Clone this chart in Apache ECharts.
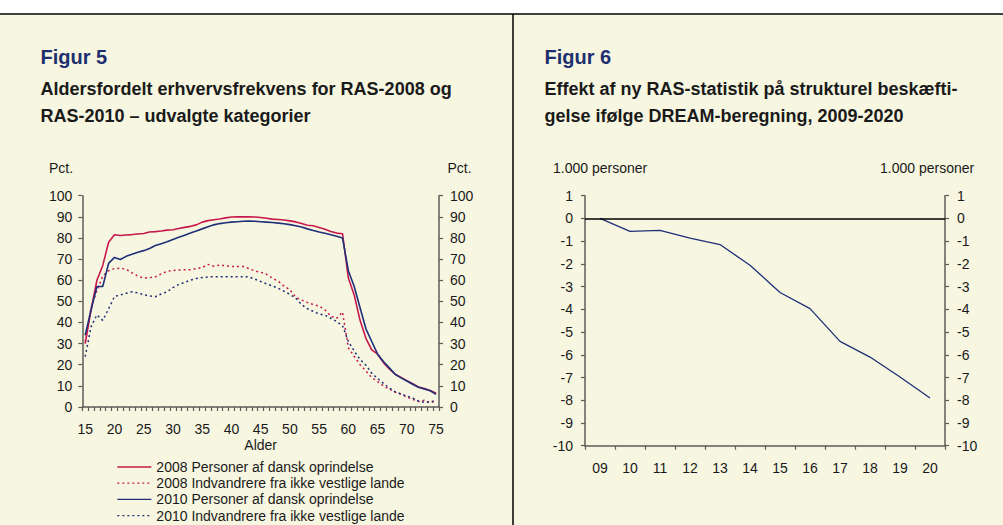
<!DOCTYPE html>
<html><head><meta charset="utf-8">
<script src="https://cdn.jsdelivr.net/npm/echarts@6/dist/echarts.min.js"></script>
<style>html,body{margin:0;padding:0;background:#ffffff}#c{width:1003px;height:525px}</style>
</head><body><div id="c"></div>
<script>
// ---- Figur 5 data ----
const ages = ['15','16','17','18','19','20','21','22','23','24','25','26','27','28','29','30','31','32','33','34','35','36','37','38','39','40','41','42','43','44','45','46','47','48','49','50','51','52','53','54','55','56','57','58','59','60','61','62','63','64','65','66','67','68','69','70','71','72','73','74','75'];
const dansk2008 = [30,46,60,67,78,81.5,81.2,81.4,81.6,81.9,82.1,82.8,83.0,83.3,83.7,83.9,84.5,85.0,85.5,86.2,87.5,88.2,88.6,89.0,89.5,89.9,90.0,90.0,90.0,89.9,89.7,89.3,88.9,88.7,88.5,88.1,87.6,86.8,86.0,85.8,85.0,84.1,83.1,82.3,82.0,61.0,53.0,41.0,32.5,27.0,25.0,21.0,18.0,15.5,14.0,12.5,11.0,9.5,8.7,7.8,6.5];
const indv2008 = [31,47,55,62,64.5,65.5,65.7,65.2,63.5,62,61,61.2,61.6,63,64.2,64.6,64.8,64.9,65,65.5,66,67.5,66.6,67.2,66.8,66.5,66.5,66.5,65.5,64.4,63.8,62.8,61,59.5,57.2,55.5,52,50.6,49.5,48.5,47.8,46,43,42,45,28,24,20,17,14,12,10,8.5,7,6,4.7,3.6,2.6,3.2,2.0,3.0];
const dansk2010 = [34,46,57,57,68,70.8,69.8,71.3,72.3,73.2,74.0,75.0,76.4,77.3,78.2,79.3,80.3,81.3,82.3,83.3,84.3,85.3,86.2,86.8,87.2,87.5,87.7,87.9,88.0,87.9,87.7,87.5,87.3,87.0,86.7,86.3,85.8,85.2,84.3,83.5,82.8,82.2,81.5,80.8,80.0,64.5,57.0,47.0,37.0,31.0,25.0,21.5,18.5,15.5,13.8,12.3,10.8,9.3,8.5,7.7,6.0];
const indv2010 = [23.8,38,43.6,41,46.5,52.3,53,53.8,54.5,54,53.2,52.5,52.2,53.5,54.5,56.5,58,59,60,60.8,61.3,61.5,61.7,61.7,61.7,61.7,61.7,61.7,61.6,60.5,59.4,58.3,57.3,56.2,54.8,53.3,51.5,48.5,46.5,45.3,44,43.5,42,40.4,38.5,31,26.5,22.5,19.8,16,13.5,11.2,9,7.2,6.2,5.2,4.2,2.8,2.2,2.3,3.3];
const seriesNames = ['2008 Personer af dansk oprindelse','2008 Indvandrere fra ikke vestlige lande','2010 Personer af dansk oprindelse','2010 Indvandrere fra ikke vestlige lande'];

// ---- Figur 6 data ----
const years = ['09','10','11','12','13','14','15','16','17','18','19','20'];
const effekt = [0,-0.57,-0.53,-0.87,-1.15,-2.06,-3.26,-3.97,-5.41,-6.1,-6.98,-7.9];

const FONT = 'Liberation Sans, Arial, Helvetica, sans-serif';
const RED = '#c8174a', BLUE = '#1f2f78', NAVY = '#1d2f6f', AX = '#5c5c58', TXT = '#1a1a1a';
const CREAM = '#f7f6e1';

const chart = echarts.init(document.getElementById('c'), null, {renderer: 'svg'});

function txt(x, y, s, size, weight, color) {
  return {type: 'text', x: x, y: y, silent: true,
    style: {text: s, fontFamily: FONT, fontSize: size, fontWeight: weight || 'normal', fill: color || TXT, verticalAlign: 'middle', align: 'left'}};
}
const axisLabel = {color: TXT, fontSize: 14, fontFamily: FONT};
const axLine = {show: true, lineStyle: {color: AX, width: 1.5}};
const axTick = {show: true, length: 4, lineStyle: {color: AX, width: 1.2}};

const option = {
  animation: false,
  backgroundColor: 'transparent',
  textStyle: {fontFamily: FONT},
  graphic: [
    {type: 'rect', shape: {x: 0, y: 14, width: 1003, height: 511}, style: {fill: CREAM}, silent: true, z: -10},
    {type: 'line', shape: {x1: 0, y1: 14, x2: 1003, y2: 14}, style: {stroke: '#000', lineWidth: 1.5}, silent: true},
    {type: 'line', shape: {x1: 513, y1: 14, x2: 513, y2: 525}, style: {stroke: '#000', lineWidth: 1.5}, silent: true},
    txt(40.5, 57, 'Figur 5', 20, 'bold', NAVY),
    txt(40.5, 89, 'Aldersfordelt erhvervsfrekvens for RAS-2008 og', 18, 'bold', TXT),
    txt(40.5, 115.5, 'RAS-2010 \u2013 udvalgte kategorier', 18, 'bold', TXT),
    txt(544.5, 57, 'Figur 6', 20, 'bold', NAVY),
    txt(544.5, 89, 'Effekt af ny RAS-statistik p\u00e5 strukturel besk\u00e6fti-', 18, 'bold', TXT),
    txt(544.5, 115.5, 'gelse if\u00f8lge DREAM-beregning, 2009-2020', 18, 'bold', TXT),
    txt(49, 167.5, 'Pct.', 14),
    txt(447.5, 167.5, 'Pct.', 14),
    txt(553, 167.5, '1.000 personer', 14),
    txt(880, 167.5, '1.000 personer', 14)
  ],
  legend: {
    orient: 'vertical', left: 116.7, top: 460, padding: 0,
    itemWidth: 34, itemHeight: 14, itemGap: 2.2,
    itemStyle: {color: 'transparent', borderColor: 'transparent', borderWidth: 0, opacity: 0},
    lineStyle: {width: 1.3},
    textStyle: {fontSize: 14, color: TXT, fontFamily: FONT},
    data: seriesNames
  },
  grid: [
    {left: 82.3, right: 1003 - 439, top: 195.7, bottom: 525 - 407, containLabel: false},
    {left: 585, right: 1003 - 945, top: 195.7, bottom: 525 - 445.7, containLabel: false}
  ],
  xAxis: [
    {type: 'category', gridIndex: 0, data: ages, boundaryGap: true,
     axisLine: axLine, axisTick: Object.assign({interval: 0}, axTick),
     axisLabel: Object.assign({interval: 4, margin: 15}, axisLabel),
     name: 'Alder', nameLocation: 'middle', nameGap: 31,
     nameTextStyle: {fontSize: 14, color: TXT, fontFamily: FONT}},
    {type: 'category', gridIndex: 1, data: years, boundaryGap: true,
     axisLine: Object.assign({onZero: false}, axLine), axisTick: Object.assign({interval: 0}, axTick),
     axisLabel: Object.assign({interval: 0, margin: 15}, axisLabel)}
  ],
  yAxis: [
    {type: 'value', gridIndex: 0, position: 'left', min: 0, max: 100, interval: 10,
     axisLine: axLine, axisTick: axTick, splitLine: {show: false}, axisLabel: Object.assign({margin: 10}, axisLabel)},
    {type: 'value', gridIndex: 0, position: 'right', min: 0, max: 100, interval: 10,
     axisLine: axLine, axisTick: axTick, splitLine: {show: false}, axisLabel: Object.assign({margin: 11}, axisLabel)},
    {type: 'value', gridIndex: 1, position: 'left', min: -10, max: 1, interval: 1,
     axisLine: axLine, axisTick: axTick, splitLine: {show: false}, axisLabel: Object.assign({margin: 12}, axisLabel)},
    {type: 'value', gridIndex: 1, position: 'right', min: -10, max: 1, interval: 1,
     axisLine: axLine, axisTick: axTick, splitLine: {show: false}, axisLabel: Object.assign({margin: 12}, axisLabel)}
  ],
  series: [
    {name: seriesNames[0], type: 'line', xAxisIndex: 0, yAxisIndex: 0, data: dansk2008, symbol: 'none',
     lineStyle: {color: RED, width: 1.6, type: 'solid'}, itemStyle: {color: RED}, z: 3},
    {name: seriesNames[1], type: 'line', xAxisIndex: 0, yAxisIndex: 0, data: indv2008, symbol: 'none',
     lineStyle: {color: RED, width: 1.5, type: [2, 3]}, itemStyle: {color: RED}, z: 2},
    {name: seriesNames[2], type: 'line', xAxisIndex: 0, yAxisIndex: 0, data: dansk2010, symbol: 'none',
     lineStyle: {color: BLUE, width: 1.6, type: 'solid'}, itemStyle: {color: BLUE}, z: 3},
    {name: seriesNames[3], type: 'line', xAxisIndex: 0, yAxisIndex: 0, data: indv2010, symbol: 'none',
     lineStyle: {color: BLUE, width: 1.5, type: [2, 3]}, itemStyle: {color: BLUE}, z: 2},
    {name: 'Effekt', type: 'line', xAxisIndex: 1, yAxisIndex: 2, data: effekt, symbol: 'none',
     lineStyle: {color: BLUE, width: 1.3}, itemStyle: {color: BLUE},
     markLine: {silent: true, symbol: 'none', label: {show: false},
       lineStyle: {color: '#000', width: 1.5, type: 'solid'}, data: [{yAxis: 0}]}}
  ]
};
chart.setOption(option);
</script>
</body></html>
